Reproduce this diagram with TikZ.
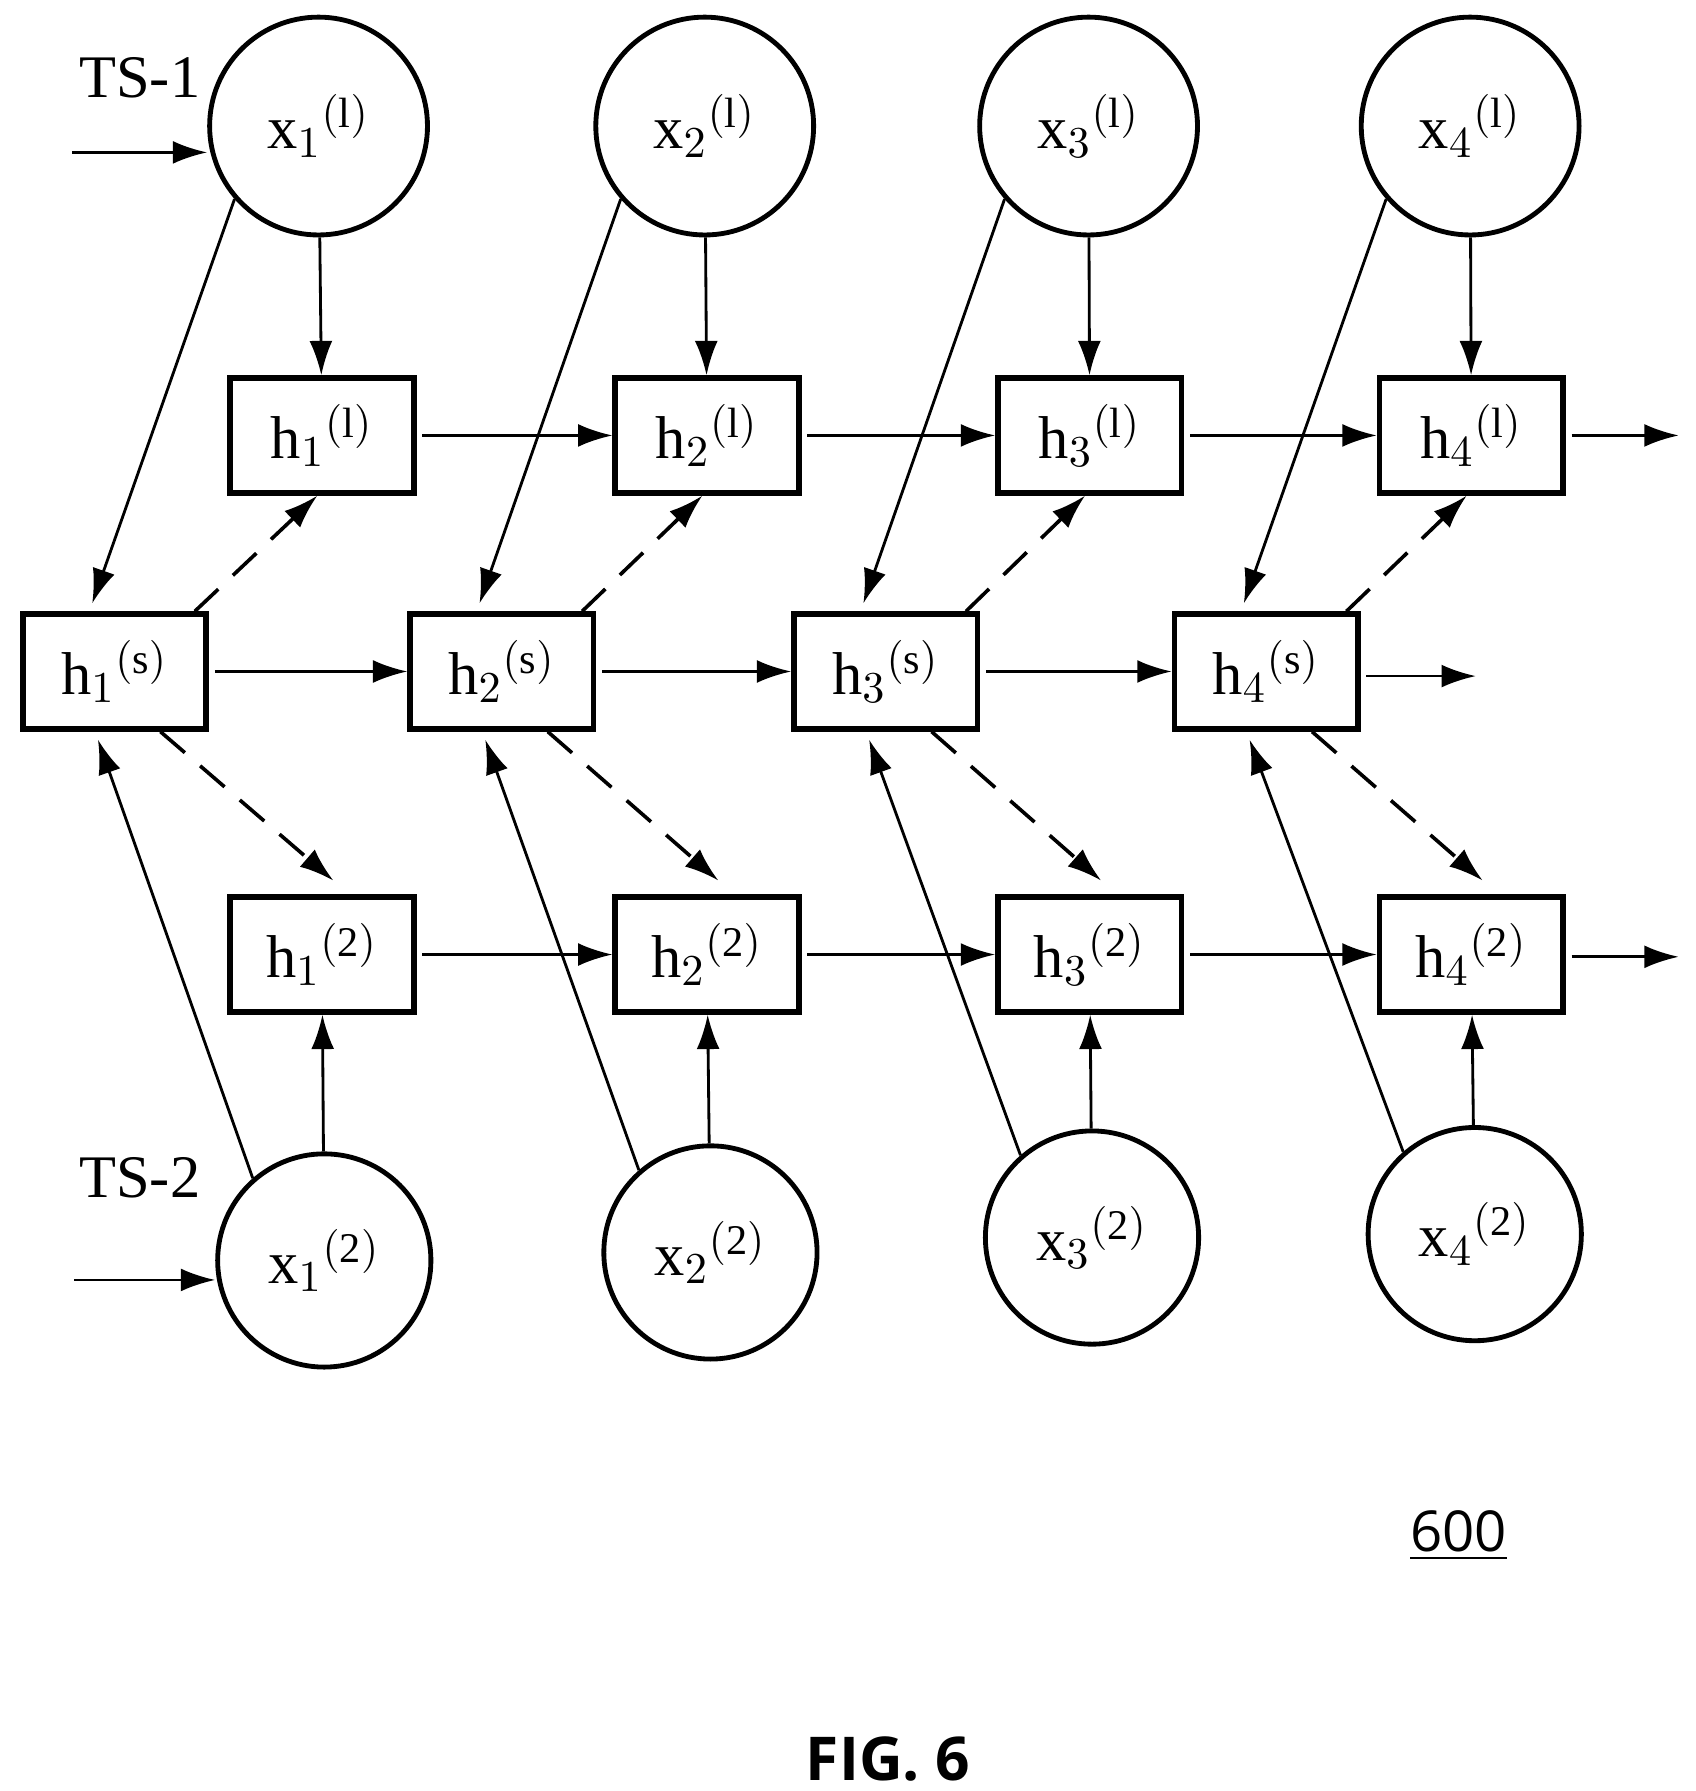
\documentclass[tikz,border=0pt]{standalone}
\usepackage{fontspec}
\setmainfont{Liberation Serif}
\newfontfamily\figfont{Open Sans}
\usetikzlibrary{arrows.meta}
\usetikzlibrary{calc}
\tikzset{>={Latex[length=3mm,width=2mm]}}
\tikzset{
    xin/.style={draw, circle, line width=1.2pt, minimum size=1.9cm, inner sep=0pt, font=\fontsize{15pt}{15pt}\selectfont},
    hbox/.style={draw, rectangle, line width=1.4pt, minimum width=1.6cm, minimum height=1cm, inner sep=0pt, font=\fontsize{15pt}{15pt}\selectfont},
    link/.style={->, line width=0.7pt},
    share/.style={->, line width=0.9pt, dashed, dash pattern=on 8pt off 5pt},
}

\begin{document}
\begin{tikzpicture}[x=0.01cm, y=-0.01cm] % two series sharing a hidden state
	\useasboundingbox (0,0) rectangle (1480,1563);
	% columns: x of top circle, x of h1, x of hs, x of h2, x of bottom circle, y of bottom circle
	\foreach \i/\xa/\xh/\xs/\xb/\yb in {1/278/281/100/283/1100, 2/615/617/438/620/1093, 3/950/951/773/953/1080, 4/1283/1284/1105/1287/1077} {
		\node[xin] (xa\i) at (\xa,110) {x$_{\i}$$^{\mathrm{(l)}}$};
		\node[hbox] (ha\i) at (\xh,380) {h$_{\i}$$^{\mathrm{(l)}}$};
		\node[hbox] (hs\i) at (\xs,586) {h$_{\i}$$^{\mathrm{(s)}}$};
		\node[hbox] (hb\i) at (\xh,833) {h$_{\i}$$^{\mathrm{(2)}}$};
		\node[xin, minimum size=1.86cm] (xb\i) at (\xb,\yb) {x$_{\i}$$^{\mathrm{(2)}}$};
		\draw[link] (xa\i) -- (ha\i);
		\draw[link] (xb\i) -- (hb\i);
		\draw[link] (xa\i.221) -- ($(hs\i.north west)+(63,-7)$);
		\draw[link] (xb\i.131) -- ($(hs\i.south west)+(68,7)$);
		\draw[share] ($(hs\i.north)+(70,0)$) -- ($(ha\i.south)+(-4,0)$);
		\draw[share] ($(hs\i.south)+(40,0)$) -- ($(hb\i.north)+(10,-12)$);
	}
	\foreach \i/\j in {1/2, 2/3, 3/4} {
		\draw[link] ($(ha\i.east)+(5,0)$) -- (ha\j);
		\draw[link] ($(hs\i.east)+(5,0)$) -- (hs\j);
		\draw[link] ($(hb\i.east)+(5,0)$) -- (hb\j);
	}
	\coordinate (outa) at (1465,380);
	\coordinate (outs) at (1288,590);
	\coordinate (outb) at (1465,835);
	\draw[link] ($(ha4.east)+(5,0)$) -- (outa);
	\draw[link] ($(hs4.east)+(5,4)$) -- (outs);
	\draw[link] ($(hb4.east)+(5,2)$) -- (outb);
	% series inputs
	\node[font=\fontsize{15pt}{15pt}\selectfont] (ts1) at (122,68) {TS-1};
	\node[font=\fontsize{15pt}{15pt}\selectfont] (ts2) at (122,1028) {TS-2};
	\coordinate (ina) at (63,133);
	\coordinate (inb) at (65,1117);
	\draw[link] (ina) -- (xa1.west |- ina);
	\draw[link] (inb) -- (xb1.west |- inb);
	\node[font=\figfont\fontsize{14pt}{14pt}\selectfont] (ref) at (1273,1340) {\underline{600}};
	\node[font=\figfont\bfseries\fontsize{15pt}{15pt}\selectfont] (fig) at (775,1535) {FIG. 6};
\end{tikzpicture}
\end{document}
